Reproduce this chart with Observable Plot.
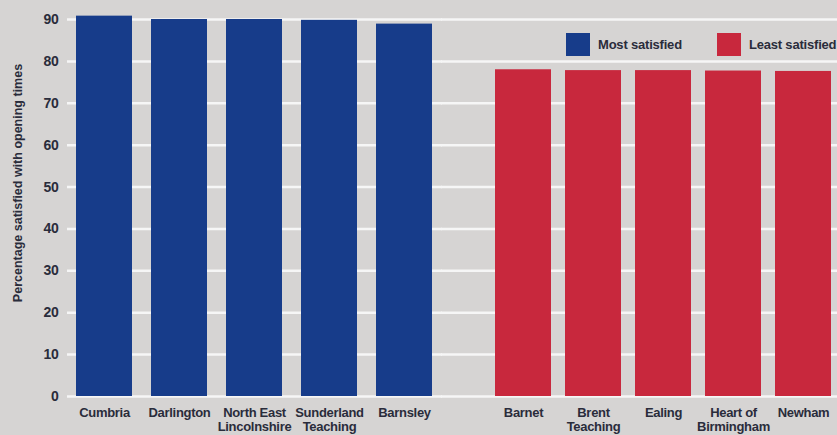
<!DOCTYPE html>
<html>
<head>
<meta charset="utf-8">
<script src="https://cdn.jsdelivr.net/npm/d3@7"></script>
<script src="https://cdn.jsdelivr.net/npm/@observablehq/plot@0.6"></script>
<style>
  html, body { margin: 0; padding: 0; background: #d6d4d3; }
  #wrap { position: relative; width: 837px; height: 435px; overflow: hidden; background: #d6d4d3;
          font-family: "Liberation Sans", Arial, sans-serif; color: #2a2c3b; }
  .chart { position: absolute; top: 0; }
  .legend { position: absolute; top: 33px; height: 23px; display: flex; align-items: center; font-weight: bold;
            font-size: 13px; letter-spacing: -0.2px; white-space: nowrap; }
  .swatch { width: 24px; height: 23px; margin-right: 8px; flex: none; }
  #ylabel { position: absolute; left: 18px; top: 183px; transform: translate(-50%, -50%) rotate(-90deg);
            white-space: nowrap; font-weight: bold; font-size: 12.5px; }
</style>
</head>
<body>
<div id="wrap">
  <div id="left" class="chart" style="left:0px"></div>
  <div id="right" class="chart" style="left:441px"></div>
  <div id="ylabel">Percentage  satisfied with opening times</div>
  <div class="legend" style="left:566px"><div class="swatch" style="background:#173c8a"></div>Most satisfied</div>
  <div class="legend" style="left:717px"><div class="swatch" style="background:#c8283d"></div>Least satisfied</div>
</div>
<script>
// Data
const mostNames = ["Cumbria", "Darlington", "North East\nLincolnshire", "Sunderland\nTeaching", "Barnsley"];
const mostValues = [90.8, 90.0, 90.0, 89.8, 88.9];
const leastNames = ["Barnet", "Brent\nTeaching", "Ealing", "Heart of\nBirmingham", "Newham"];
const leastValues = [78.0, 77.8, 77.8, 77.7, 77.6];
const yTicks = [0, 10, 20, 30, 40, 50, 60, 70, 80, 90];

const blue = "#173c8a";
const red = "#c8283d";
const textColor = "#2a2c3b";
const fontFamily = "'Liberation Sans', Arial, sans-serif";

const most = mostNames.map((name, i) => ({name, value: mostValues[i]}));
const least = leastNames.map((name, i) => ({name, value: leastValues[i]}));

const common = {
  height: 435,
  marginTop: 19,
  marginBottom: 39,
  style: {background: "transparent", fontFamily, color: textColor, overflow: "visible", letterSpacing: "-0.3px"},
  y: {domain: [0, 90], ticks: yTicks}
};

const xAxisOpts = {tickSize: 0, tickPadding: 11, fontSize: 13, fontWeight: "bold", lineHeight: 1.05, label: null, fill: textColor};

const leftChart = Plot.plot({
  ...common,
  width: 442,
  marginLeft: 67,
  marginRight: 0,
  x: {domain: mostNames, paddingInner: 0.25, paddingOuter: 0.125},
  marks: [
    Plot.ruleY(yTicks, {stroke: "#f6f6f6", strokeWidth: 2.5}),
    Plot.barY(most, {x: "name", y: "value", fill: blue}),
    Plot.axisY(yTicks, {tickSize: 0, tickPadding: 9, fontSize: 14, fontWeight: "bold", label: null, fill: textColor}),
    Plot.axisX(xAxisOpts)
  ]
});

const rightChart = Plot.plot({
  ...common,
  width: 396,
  marginLeft: 0,
  marginRight: 0,
  x: {domain: leastNames, paddingInner: 0.203, paddingOuter: 0.416, align: 0.897},
  marks: [
    Plot.ruleY(yTicks, {stroke: "#f6f6f6", strokeWidth: 2.5}),
    Plot.barY(least, {x: "name", y: "value", fill: red}),
    Plot.axisY({ticks: [], label: null}),
    Plot.axisX(xAxisOpts)
  ]
});

document.getElementById("left").appendChild(leftChart);
document.getElementById("right").appendChild(rightChart);
</script>
</body>
</html>
